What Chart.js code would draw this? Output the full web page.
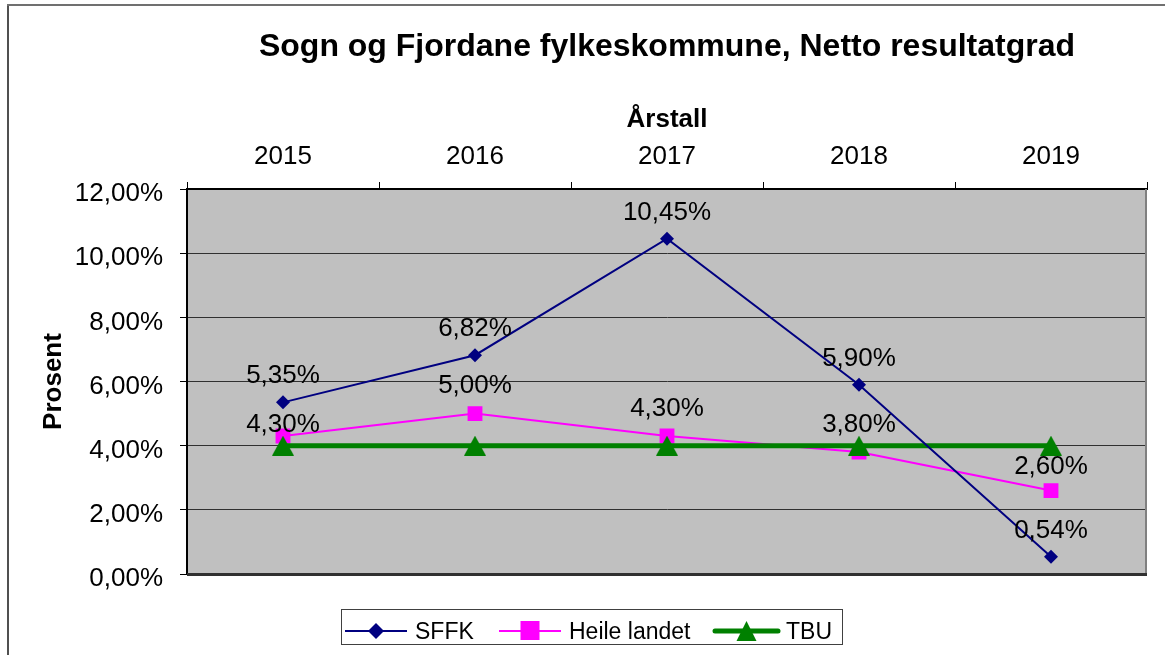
<!DOCTYPE html>
<html><head><meta charset="utf-8">
<script src="https://cdn.jsdelivr.net/npm/chart.js@4.4.0/dist/chart.umd.min.js"></script>
<style>html,body{margin:0;padding:0;background:#fff;}canvas{display:block;}</style>
</head><body>
<canvas id="c" width="1165" height="655"></canvas>
<script>
// ---- data ----
const categories = ['2015', '2016', '2017', '2018', '2019'];
const sffk = [5.35, 6.82, 10.45, 5.90, 0.54];
const heileLandet = [4.30, 5.00, 4.30, 3.80, 2.60];
const tbu = [4.00, 4.00, 4.00, 4.00, 4.00];
const seriesNames = ['SFFK', 'Heile landet', 'TBU'];
const chartTitle = 'Sogn og Fjordane fylkeskommune, Netto resultatgrad';
const xTitle = 'Årstall';
const yTitle = 'Prosent';
const yMin = 0, yMax = 12, yStep = 2;

const FONT = '"Liberation Sans", Arial, sans-serif';
const fmt = v => v.toFixed(2).replace('.', ',') + '%';

// data label offsets (px above point) per dataset
const labelOffsets = { 0: [28, 28, 28, 28, 28], 1: [13, 30, 29, 29, 26] };

// triangle marker centred on its bounding box
const triCanvas = document.createElement('canvas');
triCanvas.width = 22; triCanvas.height = 20;
(() => {
  const t = triCanvas.getContext('2d');
  t.fillStyle = '#008000';
  t.beginPath();
  t.moveTo(11, 0); t.lineTo(22, 20); t.lineTo(0, 20); t.closePath();
  t.fill();
})();

const framePlugin = {
  id: 'frame',
  beforeDraw(chart) {
    const {ctx, chartArea: a} = chart;
    ctx.save();
    ctx.fillStyle = '#fff';
    ctx.fillRect(0, 0, chart.width, chart.height);
    ctx.fillStyle = '#c0c0c0';
    ctx.fillRect(a.left, a.top, a.right - a.left, a.bottom - a.top);
    // outer frame
    ctx.fillStyle = '#505050';
    ctx.fillRect(7, 5, 2, chart.height - 5);
    ctx.fillStyle = '#707070';
    ctx.fillRect(7, 4, chart.width - 7, 2);
    ctx.restore();
  },
  afterDraw(chart) {
    const {ctx, chartArea: a} = chart;
    ctx.save();
    // right border of plot
    ctx.fillStyle = '#808080';
    ctx.fillRect(a.right - 2, a.top, 2, a.bottom - a.top);
    // bottom border
    ctx.fillStyle = '#303030';
    ctx.fillRect(a.left, a.bottom - 1, a.right - a.left, 3);
    // title
    ctx.fillStyle = '#000';
    ctx.font = 'bold 32px ' + FONT;
    ctx.textAlign = 'center';
    ctx.textBaseline = 'alphabetic';
    ctx.fillText(chartTitle, (a.left + a.right) / 2, 56);

    // legend
    const lx = 341, ly = 609, lw = 501, lh = 35, cy = 631;
    ctx.strokeStyle = '#404040';
    ctx.lineWidth = 1;
    ctx.strokeRect(lx + 0.5, ly + 0.5, lw, lh);
    ctx.font = '23px ' + FONT;
    ctx.textAlign = 'left';
    const items = [
      {x0: 345, x1: 407, tx: 415, ds: 0, color: '#000080'},
      {x0: 499, x1: 561, tx: 569, ds: 1, color: '#ff00ff'},
      {x0: 715, x1: 778, tx: 786, ds: 2, color: '#008000'}
    ];
    items.forEach(it => {
      const d = chart.data.datasets[it.ds];
      ctx.strokeStyle = it.color;
      ctx.lineWidth = d.borderWidth;
      ctx.lineCap = it.ds === 2 ? 'round' : 'butt';
      ctx.beginPath();
      ctx.moveTo(it.x0, cy); ctx.lineTo(it.x1, cy);
      ctx.stroke();
      const mx = (it.x0 + it.x1) / 2;
      ctx.fillStyle = it.color;
      ctx.beginPath();
      if (it.ds === 0) {
        ctx.moveTo(mx, cy - 8); ctx.lineTo(mx + 8, cy); ctx.lineTo(mx, cy + 8); ctx.lineTo(mx - 8, cy);
      } else if (it.ds === 1) {
        ctx.rect(mx - 9.5, cy - 10, 19, 19);
      } else {
        ctx.moveTo(mx, cy - 10); ctx.lineTo(mx + 10, cy + 10); ctx.lineTo(mx - 10, cy + 10);
      }
      ctx.closePath();
      ctx.fill();
      ctx.fillStyle = '#000';
      ctx.fillText(d.label, it.tx, cy + 8);
    });
    ctx.restore();
  },
  afterDatasetsDraw(chart) {
    const {ctx} = chart;
    ctx.save();
    ctx.fillStyle = '#000';
    ctx.font = '26px ' + FONT;
    ctx.textAlign = 'center';
    ctx.textBaseline = 'alphabetic';
    Object.keys(labelOffsets).forEach(k => {
      const meta = chart.getDatasetMeta(+k);
      const vals = chart.data.datasets[k].data;
      meta.data.forEach((pt, i) => {
        ctx.fillText(fmt(vals[i]), pt.x, pt.y - labelOffsets[k][i] + 9);
      });
    });
    ctx.restore();
  }
};

new Chart(document.getElementById('c'), {
  type: 'line',
  data: {
    labels: categories,
    datasets: [
      {
        label: seriesNames[0], data: sffk, order: 0,
        borderColor: '#000080', backgroundColor: '#000080', borderWidth: 2,
        pointStyle: 'rectRot', pointRadius: 7, pointBackgroundColor: '#000080',
        pointBorderColor: '#000080', pointBorderWidth: 0, tension: 0
      },
      {
        label: seriesNames[1], data: heileLandet, order: 2,
        borderColor: '#ff00ff', backgroundColor: '#ff00ff', borderWidth: 2,
        pointStyle: 'rect', pointRadius: 10.5, pointBackgroundColor: '#ff00ff',
        pointBorderColor: '#ff00ff', pointBorderWidth: 0, tension: 0
      },
      {
        label: seriesNames[2], data: tbu, order: 1,
        borderColor: '#008000', backgroundColor: '#008000', borderWidth: 5,
        pointStyle: triCanvas, pointRadius: 12, pointBackgroundColor: '#008000',
        pointBorderColor: '#008000', pointBorderWidth: 0, tension: 0
      }
    ]
  },
  options: {
    responsive: false,
    animation: false,
    events: [],
    layout: { padding: { left: 0, top: 0, right: 18, bottom: 81 } },
    plugins: { legend: { display: false }, title: { display: false }, tooltip: { enabled: false } },
    scales: {
      x: {
        position: 'top',
        offset: true,
        afterFit: s => { s.height = 189; },
        grid: { display: true, drawOnChartArea: false, drawTicks: true, tickLength: 7, offset: true, color: '#000', lineWidth: 1 },
        border: { display: true, color: '#000', width: 2 },
        ticks: { color: '#000', font: { family: FONT, size: 26 }, padding: 10, maxRotation: 0 },
        title: { display: true, text: xTitle, color: '#000', font: { family: FONT, size: 26, weight: 'bold' }, padding: { top: 104, bottom: 0 } }
      },
      y: {
        min: yMin, max: yMax,
        afterFit: s => { s.width = 187; },
        grid: { color: '#303030', lineWidth: 1, tickLength: 7, tickColor: '#000', drawTicks: true },
        border: { display: true, color: '#000', width: 2 },
        ticks: { stepSize: yStep, color: '#000', font: { family: FONT, size: 26 }, padding: 17, labelOffset: 5, callback: v => fmt(v) },
        title: { display: true, text: yTitle, color: '#000', font: { family: FONT, size: 26, weight: 'bold' }, padding: { top: 38, bottom: 0 } }
      }
    }
  },
  plugins: [framePlugin]
});
</script>
</body></html>
